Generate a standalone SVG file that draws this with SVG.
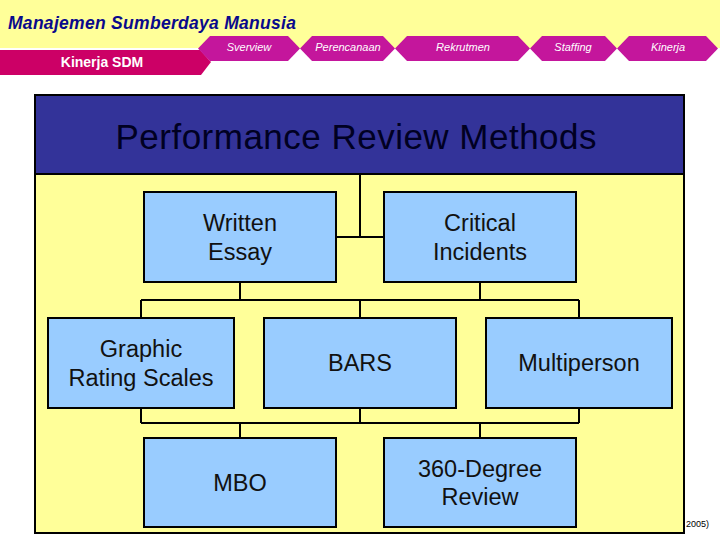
<svg xmlns="http://www.w3.org/2000/svg" width="720" height="540" viewBox="0 0 720 540">
<style>
.tab{fill:#C4169C}
.tabt{font-family:"Liberation Sans",Arial,sans-serif;font-style:italic;font-size:11px;fill:#FFFFFF;text-anchor:middle}
.box{fill:#99CCFF;stroke:#000000;stroke-width:2}
.bt{font-family:"Liberation Sans",Arial,sans-serif;font-size:23.5px;fill:#111111;text-anchor:middle}
.con{stroke:#000000;stroke-width:2;fill:none}
</style>
<rect x="0" y="0" width="720" height="540" fill="#FFFFFF"/>
<rect x="0" y="0" width="720" height="48" fill="#FFFF99"/>
<text x="8" y="29" font-family="'Liberation Sans',Arial,sans-serif" font-size="17.5" font-weight="bold" font-style="italic" fill="#0A0A8C" textLength="288">Manajemen Sumberdaya Manusia</text>
<g id="kinerja-sdm">
<polygon points="0,50 200,50 211,62 201,75 0,75" fill="#CC0066"/>
<text x="102" y="67" font-family="'Liberation Sans',Arial,sans-serif" font-size="14" font-weight="bold" fill="#FFFFFF" text-anchor="middle">Kinerja SDM</text>
</g>
<g id="tabs">
<polygon class="tab" points="198,48.5 210,36 288,36 300,48.5 288,61 210,61"/>
<text class="tabt" x="249" y="51">Sverview</text>
<polygon class="tab" points="300,48.5 312,36 383,36 395,48.5 383,61 312,61"/>
<text class="tabt" x="348" y="51">Perencanaan</text>
<polygon class="tab" points="395,48.5 407,36 518,36 530,48.5 518,61 407,61"/>
<text class="tabt" x="463" y="51">Rekrutmen</text>
<polygon class="tab" points="530,48.5 542,36 605,36 617,48.5 605,61 542,61"/>
<text class="tabt" x="573" y="51">Staffing</text>
<polygon class="tab" points="617,48.5 629,36 706,36 718,48.5 706,61 629,61"/>
<text class="tabt" x="668" y="51">Kinerja</text>
</g>
<text x="686" y="527" font-family="'Liberation Sans',Arial,sans-serif" font-size="9" fill="#000000">2005)</text>
<g id="panel">
<rect x="35" y="95" width="649" height="438" fill="#FFFF99" stroke="#000000" stroke-width="2"/>
<rect x="35" y="95" width="649" height="79" fill="#333399" stroke="#000000" stroke-width="2"/>
<text x="356" y="149" font-family="'Liberation Sans',Arial,sans-serif" font-size="35" fill="#000022" text-anchor="middle" textLength="481">Performance Review Methods</text>
</g>
<g id="connectors">
<path class="con" d="M360,174 V237 M336,237 H384 M240,282 V300 M480,282 V300 M141,300 H579 M141,300 V318 M360,300 V318 M579,300 V318 M141,408 V423 M360,408 V423 M579,408 V423 M141,423 H579 M240,423 V438 M480,423 V438"/>
</g>
<g id="written-essay">
<rect class="box" x="144" y="192" width="192" height="90"/>
<text class="bt" x="240" y="231">Written</text>
<text class="bt" x="240" y="260">Essay</text>
</g>
<g id="critical-incidents">
<rect class="box" x="384" y="192" width="192" height="90"/>
<text class="bt" x="480" y="231">Critical</text>
<text class="bt" x="480" y="260">Incidents</text>
</g>
<g id="graphic-rating-scales">
<rect class="box" x="48" y="318" width="186" height="90"/>
<text class="bt" x="141" y="357">Graphic</text>
<text class="bt" x="141" y="386">Rating Scales</text>
</g>
<g id="bars">
<rect class="box" x="264" y="318" width="192" height="90"/>
<text class="bt" x="360" y="371">BARS</text>
</g>
<g id="multiperson">
<rect class="box" x="486" y="318" width="186" height="90"/>
<text class="bt" x="579" y="371">Multiperson</text>
</g>
<g id="mbo">
<rect class="box" x="144" y="438" width="192" height="89"/>
<text class="bt" x="240" y="491">MBO</text>
</g>
<g id="degree-360">
<rect class="box" x="384" y="438" width="192" height="89"/>
<text class="bt" x="480" y="477">360-Degree</text>
<text class="bt" x="480" y="505">Review</text>
</g>
</svg>
